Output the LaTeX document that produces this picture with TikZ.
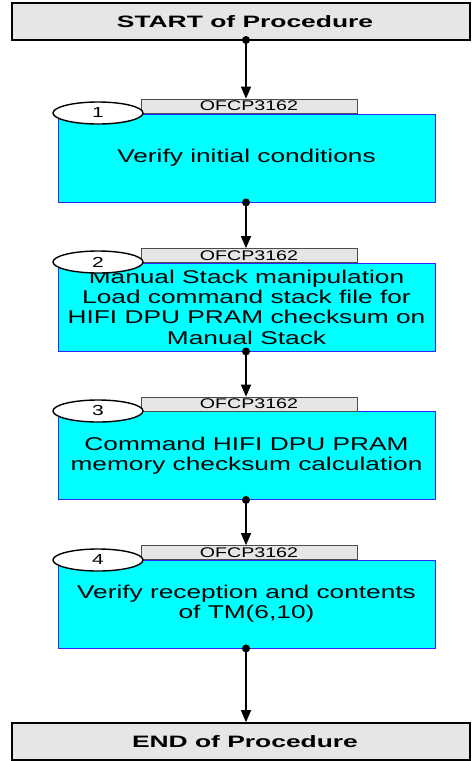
\documentclass[tikz,border=0pt]{standalone}
\usepackage{fontspec}
\setmainfont{Liberation Sans}
\usetikzlibrary{shapes.geometric,arrows.meta}
\definecolor{boxgray}{RGB}{230,230,230}
\definecolor{aqua}{RGB}{0,255,255}
\definecolor{edgeblue}{RGB}{40,40,255}
\begin{document}
\begin{tikzpicture}[x=1pt,y=-1pt,
  termbox/.style={draw=black,line width=1.6pt,fill=boxgray,minimum width=458pt,minimum height=37pt,inner sep=0pt},
  stepbox/.style={draw=edgeblue,line width=0.9pt,fill=aqua,minimum width=377pt,minimum height=88pt,inner sep=0pt},
  tagbox/.style={draw=black!70,line width=0.7pt,fill=boxgray,minimum width=216pt,minimum height=14pt,inner sep=0pt},
  numoval/.style={ellipse,draw=black,line width=1.4pt,fill=white,minimum width=90pt,minimum height=22pt,inner sep=0pt},
  numtext/.style={font=\fontsize{14.5}{14.5}\selectfont,xscale=1.45},
  termtext/.style={font=\fontsize{16.5}{18}\bfseries,xscale=1.6},
  steptext/.style={font=\fontsize{18.5}{20.3}\selectfont,xscale=1.42,align=center},
  tagtext/.style={font=\fontsize{14}{14}\selectfont,xscale=1.4},
  flow/.style={line width=1.4pt,-{Triangle[width=10pt,length=12pt]}},
  dot/.style={circle,fill=black,inner sep=0pt,minimum size=8pt}
]
\useasboundingbox (0,0) rectangle (472,761);
% terminal boxes
\node[termbox] (start) at (241,21.5) {};
\node[termtext] (starttxt) at (245,21.5) {START of Procedure};
\node[termbox] (end) at (241,741.5) {};
\node[termtext] (endtxt) at (245,741.5) {END of Procedure};
% step boxes
\foreach \i/\y/\ty in {1/158/106, 2/307/255.5, 3/455.5/404, 4/604/552.5} {
  \node[tagbox] (t\i) at (249,\ty) {};
  \node[stepbox] (b\i) at (246.5,\y) {};
}
\node[steptext] (s1) at (b1) {Verify initial conditions};
\node[steptext] (s2) at (b2) {Manual Stack manipulation\\Load command stack file for\\HIFI DPU PRAM checksum on\\Manual Stack};
\node[steptext] (s3) at (b3) {Command HIFI DPU PRAM\\memory checksum calculation};
\node[steptext] (s4) at (b4) {Verify reception and contents\\of TM(6,10)};
% redraw tags above text
\foreach \i in {1,2,3,4} {
  \node[tagbox] at (t\i) {};
  \node[tagtext] at (t\i) {OFCP3162};
}
\foreach \i/\y in {1/113, 2/262, 3/411, 4/560} {
  \node[numoval] (n\i) at (98,\y) {};
  \node[numtext] at (n\i) {\i};
}
% connectors
\coordinate (c0) at (246,40);
\draw[flow] (c0) -- (c0 |- t1.north);
\node[dot] at (c0) {};
\draw[flow] (b1.south -| c0) -- (t2.north -| c0);
\node[dot] at (b1.south -| c0) {};
\draw[flow] (b2.south -| c0) -- (t3.north -| c0);
\node[dot] at (b2.south -| c0) {};
\draw[flow] (b3.south -| c0) -- (t4.north -| c0);
\node[dot] at (b3.south -| c0) {};
\draw[flow] (b4.south -| c0) -- (end.north -| c0);
\node[dot] at (b4.south -| c0) {};
\end{tikzpicture}
\end{document}
